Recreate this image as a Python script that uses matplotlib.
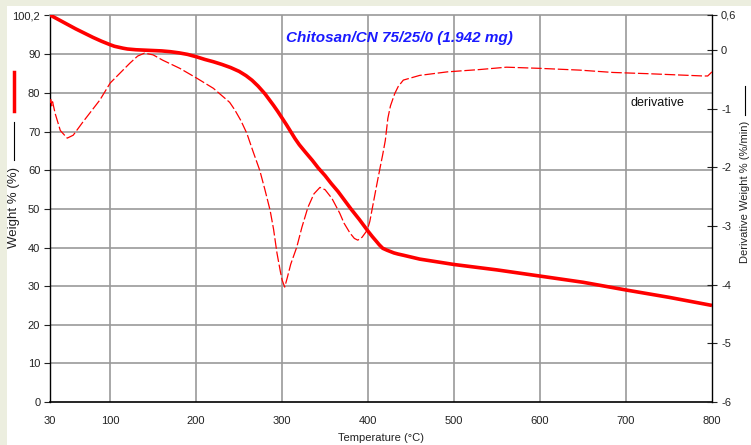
import matplotlib
matplotlib.use("Agg")
import matplotlib.pyplot as plt
from matplotlib.lines import Line2D
from matplotlib.patches import Rectangle

plt.rcParams['font.family'] = ['Liberation Sans', 'DejaVu Sans']

# ---------------- data ----------------
temp_w = [30, 40, 50, 60, 70, 80, 90, 100, 105, 115, 120, 130, 150, 160, 170,
          180, 190, 200, 210, 220, 230, 240, 250, 258, 265, 272, 280, 285, 290,
          295, 300, 305, 310, 315, 320, 327, 335, 342, 350, 357, 365, 372, 380,
          390, 395, 400, 405, 410, 413, 417, 422, 430, 435, 441, 460, 500, 550,
          600, 650, 700, 750, 800]
weight = [100.2, 99.0, 97.8, 96.6, 95.5, 94.4, 93.4, 92.5, 92.1, 91.6, 91.4,
          91.2, 91.0, 90.9, 90.7, 90.4, 90.0, 89.4, 88.7, 88.1, 87.4, 86.6,
          85.6, 84.5, 83.3, 81.8, 79.8, 78.3, 76.8, 75.2, 73.5, 71.8, 70.0,
          68.2, 66.6, 64.7, 62.6, 60.6, 58.6, 56.6, 54.5, 52.4, 50.0, 47.2,
          45.7, 44.2, 42.8, 41.5, 40.7, 39.8, 39.3, 38.6, 38.3, 38.0, 37.0,
          35.6, 34.2, 32.6, 31.0, 29.0, 27.1, 25.0]

temp_d = [30, 31, 32, 33, 36, 42, 50, 57, 68, 88, 100, 123, 132, 140, 150, 161,
          181, 201, 220, 239, 245, 252, 259, 266, 274, 280, 286, 290, 294, 298,
          300, 303, 306, 310, 317, 323, 330, 337, 344, 350, 358, 367, 372, 379,
          384, 388, 393, 399, 402, 406, 410, 414, 417, 420, 423, 426, 431, 435,
          441, 460, 492, 530, 561, 600, 646, 685, 724, 790, 795, 800]
deriv = [-0.90, -0.84, -0.95, -0.88, -1.08, -1.37, -1.50, -1.45, -1.23, -0.85,
         -0.56, -0.22, -0.10, -0.05, -0.08, -0.17, -0.31, -0.48, -0.65, -0.89,
         -1.02, -1.20, -1.42, -1.72, -2.05, -2.38, -2.73, -3.05, -3.46, -3.78,
         -3.92, -4.04, -3.88, -3.65, -3.36, -3.02, -2.68, -2.45, -2.34, -2.38,
         -2.53, -2.78, -2.95, -3.12, -3.21, -3.24, -3.19, -3.07, -2.92, -2.61,
         -2.30, -2.00, -1.78, -1.54, -1.16, -0.95, -0.74, -0.62, -0.51, -0.43,
         -0.37, -0.33, -0.29, -0.31, -0.34, -0.38, -0.40, -0.44, -0.44, -0.37]

x_ticks = [30, 100, 200, 300, 400, 500, 600, 700, 800]
y_ticks = [0, 10, 20, 30, 40, 50, 60, 70, 80, 90, 100.2]
y_tick_labels = ['0', '10', '20', '30', '40', '50', '60', '70', '80', '90', '100,2']
y2_ticks = [-6, -5, -4, -3, -2, -1, 0, 0.6]
y2_tick_labels = ['-6', '-5', '-4', '-3', '-2', '-1', '0', '0,6']

title = "Chitosan/CN 75/25/0 (1.942 mg)"

# ---------------- figure ----------------
W, H = 751, 445
fig = plt.figure(figsize=(W / 100, H / 100), dpi=100, facecolor='#ECEEDF')
fig.patches.append(Rectangle((7 / W, 0), 1, 1 - 6 / H, transform=fig.transFigure,
                             facecolor='white', edgecolor='none', zorder=-5))

ax = fig.add_axes([50 / W, 1 - 402 / H, 662 / W, 387 / H])
ax.set_facecolor('white')
ax.set_xlim(30, 800)
ax.set_ylim(0, 100.2)

grid_c = '#9a9a9a'
for xv in x_ticks[1:-1]:
    ax.axvline(xv, color=grid_c, lw=1.2, zorder=1)
for yv in y_ticks[1:-1]:
    ax.axhline(yv, color=grid_c, lw=1.2, zorder=1)

ax.set_xticks(x_ticks)
ax.set_xticklabels([str(v) for v in x_ticks])
ax.set_yticks(y_ticks)
ax.set_yticklabels(y_tick_labels)
ax.tick_params(axis='x', length=0, pad=10, labelsize=8, colors='#222222')
ax.tick_params(axis='y', direction='out', length=4, width=0.8, pad=3,
               labelsize=8, colors='#222222')
ax.spines['top'].set_color(grid_c)
ax.spines['top'].set_linewidth(1.2)
ax.spines['right'].set_visible(False)
ax.spines['left'].set_color('black')
ax.spines['left'].set_linewidth(1.0)
ax.spines['bottom'].set_color('black')
ax.spines['bottom'].set_linewidth(1.2)

ax.plot(temp_w, weight, color='#ff0000', lw=2.6, zorder=4,
        solid_capstyle='butt', solid_joinstyle='round')

ax2 = ax.twinx()
ax2.set_ylim(-6, 0.6)
ax2.set_yticks(y2_ticks)
ax2.set_yticklabels(y2_tick_labels)
ax2.tick_params(axis='y', direction='inout', length=7, width=0.8, pad=3,
                labelsize=8, colors='#222222')
for s in ['top', 'left', 'bottom']:
    ax2.spines[s].set_visible(False)
ax2.spines['right'].set_color('black')
ax2.spines['right'].set_linewidth(1.0)

ax2.plot(temp_d, deriv, color='#ff0000', lw=0.9, dashes=(8.5, 2.2), zorder=3)

ax.set_xlabel('Temperature (°C)', fontsize=8, color='#222222', labelpad=5)

# texts
fig.text(399 / W, 1 - 38 / H, title, ha='center', va='center', color='#1a1aff',
         fontsize=11, fontweight='bold', fontstyle='italic')
fig.text(657 / W, 1 - 103 / H, 'derivative', ha='center', va='center',
         fontsize=9, color='#111111')

# left axis label with line keys
fig.lines.append(Line2D([14 / W, 14 / W], [1 - 72 / H, 1 - 111 / H],
                        transform=fig.transFigure, color='#ff0000', lw=2.5))
fig.lines.append(Line2D([14 / W, 14 / W], [1 - 122 / H, 1 - 160 / H],
                        transform=fig.transFigure, color='black', lw=0.8))
fig.text(14 / W, 1 - 207 / H, 'Weight % (%)', rotation=90, ha='center',
         va='center', fontsize=9.5, color='#222222')

# right axis label with line key
fig.lines.append(Line2D([745 / W, 745 / W], [1 - 86 / H, 1 - 115 / H],
                        transform=fig.transFigure, color='black', lw=0.8))
fig.text(745 / W, 1 - 192 / H, 'Derivative Weight % (%/min)', rotation=90,
         ha='center', va='center', fontsize=8, color='#222222')

fig.savefig('out.png', dpi=100, facecolor=fig.get_facecolor())
